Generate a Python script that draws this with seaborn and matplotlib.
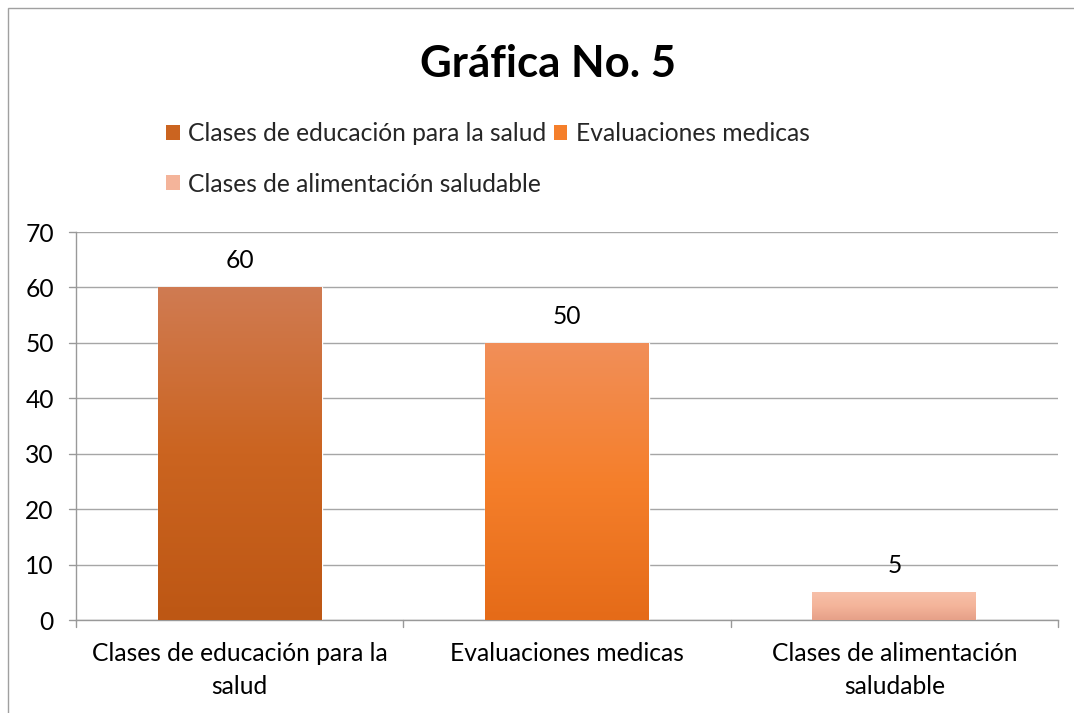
import numpy as np
import pandas as pd
import seaborn as sns
import matplotlib.pyplot as plt
from matplotlib.colors import LinearSegmentedColormap
from matplotlib.patches import Rectangle, Patch

# data
categories = ['Clases de educación para la salud',
              'Evaluaciones medicas',
              'Clases de alimentación saludable']
tick_labels = ['Clases de educación para la\nsalud',
               'Evaluaciones medicas',
               'Clases de alimentación\nsaludable']
values = [60, 50, 5]

# gradient colours (top, mid, bottom) per bar
top_colours = ['#D07B52', '#F18F59', '#F7C0A9']
mid_colours = ['#CB6420', '#F57F2B', '#F4B49A']
bot_colours = ['#BD5714', '#E56B18', '#E6A088']

sns.set_theme(style='white')
plt.rcParams['font.family'] = ['Lato', 'DejaVu Sans']
FS = 17.7

df = pd.DataFrame({'cat': categories, 'val': values})

fig = plt.figure(figsize=(10.74, 7.13), dpi=100)
ax = fig.add_axes([76 / 1074, 93 / 713, (1058 - 76) / 1074, (620 - 232) / 713])

sns.barplot(data=df, x='cat', y='val', hue='cat', palette=mid_colours,
            width=0.5, legend=False, ax=ax, saturation=1, zorder=2)

# vertical gradient on each bar
for bar, c0, c1, c2 in zip(ax.patches, top_colours, mid_colours, bot_colours):
    x0, y0 = bar.get_x(), bar.get_y()
    w, h = bar.get_width(), bar.get_height()
    cmap = LinearSegmentedColormap.from_list('g', [c2, c1, c0])
    grad = np.linspace(0, 1, 256).reshape(-1, 1)
    im = ax.imshow(grad, cmap=cmap, origin='lower', aspect='auto',
                   extent=(x0, x0 + w, y0, y0 + h), zorder=3)
    im.set_clip_path(bar)

for i, v in enumerate(values):
    ax.annotate(str(v), (i, v), xytext=(0, 11), textcoords='offset points',
                ha='center', va='bottom', fontsize=FS, color='#000000')

ax.set_xlim(-0.5, 2.5)
ax.set_ylim(0, 70)
ax.set_yticks(range(0, 71, 10))
ax.set_xticks([0, 1, 2])
ax.set_xticklabels(tick_labels, fontsize=FS, color='#000000', linespacing=1.5)
ax.tick_params(axis='y', labelsize=FS, colors='#000000', length=0, pad=16)
ax.tick_params(axis='x', length=0, pad=16)
ax.set_xlabel('')
ax.set_ylabel('')

ax.yaxis.grid(True, color='#A6A6A6', linewidth=1)
ax.set_axisbelow(True)
for s in ['top', 'right']:
    ax.spines[s].set_visible(False)
for s in ['left', 'bottom']:
    ax.spines[s].set_color('#999999')
    ax.spines[s].set_linewidth(1)

# tick marks: y ticks to the left, x ticks at category boundaries
for y in range(0, 71, 10):
    ax.plot([-0.5 - 0.022, -0.5], [y, y], color='#999999', lw=1, clip_on=False)
for xb in [-0.5, 0.5, 1.5, 2.5]:
    ax.plot([xb, xb], [0, -1.3], color='#999999', lw=1, clip_on=False)

# title
fig.text(548 / 1074, 1 - 64 / 713, 'Gráfica No. 5', ha='center', va='center',
         fontsize=31.5, fontweight='bold', color='#000000')

# legend (column-wise fill -> reorder)
handles = [Patch(facecolor=mid_colours[i], edgecolor='none') for i in range(3)]
order = [0, 2, 1]
fig.legend([handles[i] for i in order], [categories[i] for i in order],
           loc='upper left', bbox_to_anchor=(166 / 1074, 1 - 122 / 713),
           ncol=2, frameon=False, fontsize=FS, handlelength=0.55,
           handleheight=0.55, handletextpad=0.35, columnspacing=0.3,
           labelspacing=1.12, borderaxespad=0, borderpad=0)

# outer frame
fig.patches.append(Rectangle((8 / 1074, -0.1), 1.2, 1.1 - 8 / 713,
                             transform=fig.transFigure, fill=False,
                             edgecolor='#A0A0A0', linewidth=1))

fig.savefig('out.png', dpi=100)
